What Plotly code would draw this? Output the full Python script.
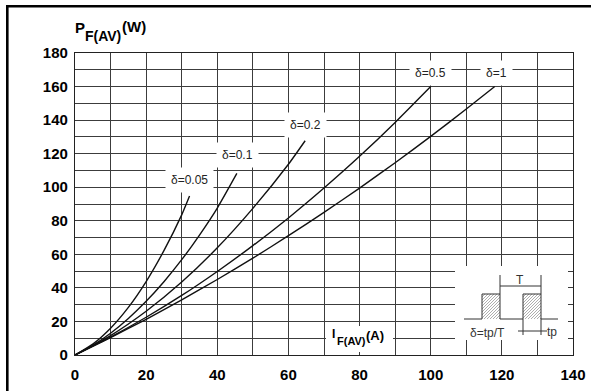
import plotly.graph_objects as go

# ---- data ----
x_d005 = [0, 5, 10, 15, 20, 25, 30, 32.2]
p_d005 = [0, 6.5, 16.0, 28.4, 43.8, 62.2, 83.5, 94.7]
x_d01 = [0, 5, 10, 15, 20, 25, 30, 35, 40, 45.5]
p_d01 = [0, 5.8, 13.0, 21.8, 32.0, 43.7, 56.8, 71.5, 87.6, 108.2]
x_d02 = [0, 10, 20, 30, 40, 50, 60, 64.7]
p_d02 = [0, 11.6, 26.1, 43.5, 63.9, 87.4, 113.7, 127.7]
x_d05 = [0, 10, 20, 30, 40, 50, 60, 70, 80, 90, 100]
p_d05 = [0, 10.7, 22.5, 35.5, 49.8, 65.2, 81.7, 99.5, 118.4, 138.6, 160.0]
x_d1 = [0, 10, 20, 30, 40, 50, 60, 70, 80, 90, 100, 110, 118]
p_d1 = [0, 10.4, 21.3, 32.9, 45.0, 57.7, 71.1, 85.0, 99.5, 114.6, 130.3, 146.6, 160.0]

labels = ["δ=0.05", "δ=0.1", "δ=0.2", "δ=0.5", "δ=1"]
label_x = [32.3, 45.8, 64.7, 99.8, 118.6]
label_y = [104.3, 119.2, 137.0, 168.0, 168.0]

x_ticks = [0, 20, 40, 60, 80, 100, 120, 140]
y_ticks = [0, 20, 40, 60, 80, 100, 120, 140, 160, 180]

FONT = "Liberation Sans, Arial, sans-serif"
GRID = "#3c3c3c"

fig = go.Figure()
for xs, ys, name in zip([x_d005, x_d01, x_d02, x_d05, x_d1],
                        [p_d005, p_d01, p_d02, p_d05, p_d1], labels):
    fig.add_trace(go.Scatter(x=xs, y=ys, mode="lines", name=name,
                             line=dict(color="#111111", width=1.4, shape="spline", smoothing=0.6),
                             showlegend=False, hoverinfo="skip"))

# pixel -> paper helpers for decorations
L, T, W, H = 75, 53, 498, 302
def PX(x):
    return (x - L) / W
def PY(y):
    return (T + H - y) / H

shapes = []
# outer frame (top and left visible)
shapes.append(dict(type="line", xref="paper", yref="paper", x0=PX(6), x1=PX(600),
                   y0=PY(6.3), y1=PY(6.3), line=dict(color="black", width=2.6)))
shapes.append(dict(type="line", xref="paper", yref="paper", x0=PX(7.3), x1=PX(7.3),
                   y0=PY(5), y1=PY(400), line=dict(color="black", width=2.6)))
# white box behind x-axis title
shapes.append(dict(type="rect", xref="paper", yref="paper", x0=PX(326), x1=PX(393),
                   y0=PY(352), y1=PY(326), fillcolor="white", line=dict(width=0), layer="above"))
# inset box
shapes.append(dict(type="rect", xref="paper", yref="paper", x0=PX(455), x1=PX(568),
                   y0=PY(340), y1=PY(266), fillcolor="white", line=dict(width=0), layer="above"))
IC = "#333333"
def seg(x0, y0, x1, y1, w=1.0, c=IC):
    shapes.append(dict(type="line", xref="paper", yref="paper", x0=PX(x0), x1=PX(x1),
                       y0=PY(y0), y1=PY(y1), line=dict(color=c, width=w), layer="above"))
# hatching inside pulses
for (a, b) in [(482, 500), (523, 541)]:
    top, bot = 294, 319
    k = -25.0
    while k < (b - a):
        xs0, ys0 = a + k, bot
        xs1, ys1 = a + k + 25, top
        if xs0 < a:
            ys0 = bot - (a - xs0); xs0 = a
        if xs1 > b:
            ys1 = top + (xs1 - b); xs1 = b
        if xs1 > xs0:
            seg(xs0, ys0, xs1, ys1, w=0.6, c="#777777")
        k += 3.0
# pulse train
seg(464, 319, 482, 319)
seg(482, 319, 482, 294)
seg(482, 294, 500, 294)
seg(500, 294, 500, 319)
seg(500, 319, 523, 319)
seg(523, 319, 523, 294)
seg(523, 294, 541, 294)
seg(541, 294, 541, 319)
seg(541, 319, 558, 319)
# T bracket
seg(500, 294, 500, 275)
seg(541, 294, 541, 275)
seg(500, 286, 541, 286)
# tp marker
seg(523, 319, 523, 335)
seg(541, 319, 541, 335)
seg(518, 331, 547, 331)

annotations = []
for t, xv, yv in zip(labels, label_x, label_y):
    annotations.append(dict(x=xv, y=yv, xref="x", yref="y", text=t, showarrow=False,
                             font=dict(family=FONT, size=12, color="#222222"),
                             bgcolor="white", borderpad=5, xanchor="center", yanchor="middle"))

def txt(text, x, y, size, bold=True, anchor="left", color="black"):
    s = "<b>%s</b>" % text if bold else text
    annotations.append(dict(x=PX(x), y=PY(y), xref="paper", yref="paper", text=s,
                             showarrow=False, xanchor=anchor, yanchor="middle", borderpad=0,
                             font=dict(family=FONT, size=size, color=color)))
# y-axis title
txt("P", 74, 27, 15)
txt("F(AV)", 84, 36, 14)
txt("(W)", 121, 26, 15)
# x-axis title
txt("I", 331, 334, 12)
txt("F(AV)", 336, 341, 11)
txt("(A)", 365, 335, 13)
# inset texts
txt("T", 520, 280, 12, bold=False, anchor="center", color="#333333")
txt("δ=tp/T", 487, 333, 12, bold=False, anchor="center", color="#333333")
txt("tp", 552, 332, 12, bold=False, anchor="center", color="#333333")

fig.update_layout(
    width=591, height=391,
    margin=dict(l=L, r=591 - L - W, t=T, b=391 - T - H, autoexpand=False),
    paper_bgcolor="white", plot_bgcolor="white",
    shapes=shapes, annotations=annotations, hovermode=False,
    xaxis=dict(range=[0, 140], tickvals=x_ticks, ticktext=[str(v) for v in x_ticks],
               automargin=False, fixedrange=True,
               showgrid=True, gridcolor=GRID, gridwidth=1,
               minor=dict(dtick=10, tick0=0, showgrid=True, gridcolor=GRID, gridwidth=1),
               showline=True, linecolor="#222222", linewidth=1.2, mirror=True,
               zeroline=False, ticks="", ticklabelstandoff=6,
               tickfont=dict(family=FONT, size=15, color="black", weight="bold")),
    yaxis=dict(range=[0, 180], tickvals=y_ticks, ticktext=[str(v) for v in y_ticks],
               automargin=False, fixedrange=True,
               showgrid=True, gridcolor=GRID, gridwidth=1,
               minor=dict(dtick=10, tick0=0, showgrid=True, gridcolor=GRID, gridwidth=1),
               showline=True, linecolor="#222222", linewidth=1.2, mirror=True,
               zeroline=False, ticks="", ticklabelstandoff=3,
               tickfont=dict(family=FONT, size=15, color="black", weight="bold")),
)

fig.write_html("out.html", config={"displayModeBar": False},
               post_script="document.body.style.margin='0';document.body.style.overflow='hidden';")
